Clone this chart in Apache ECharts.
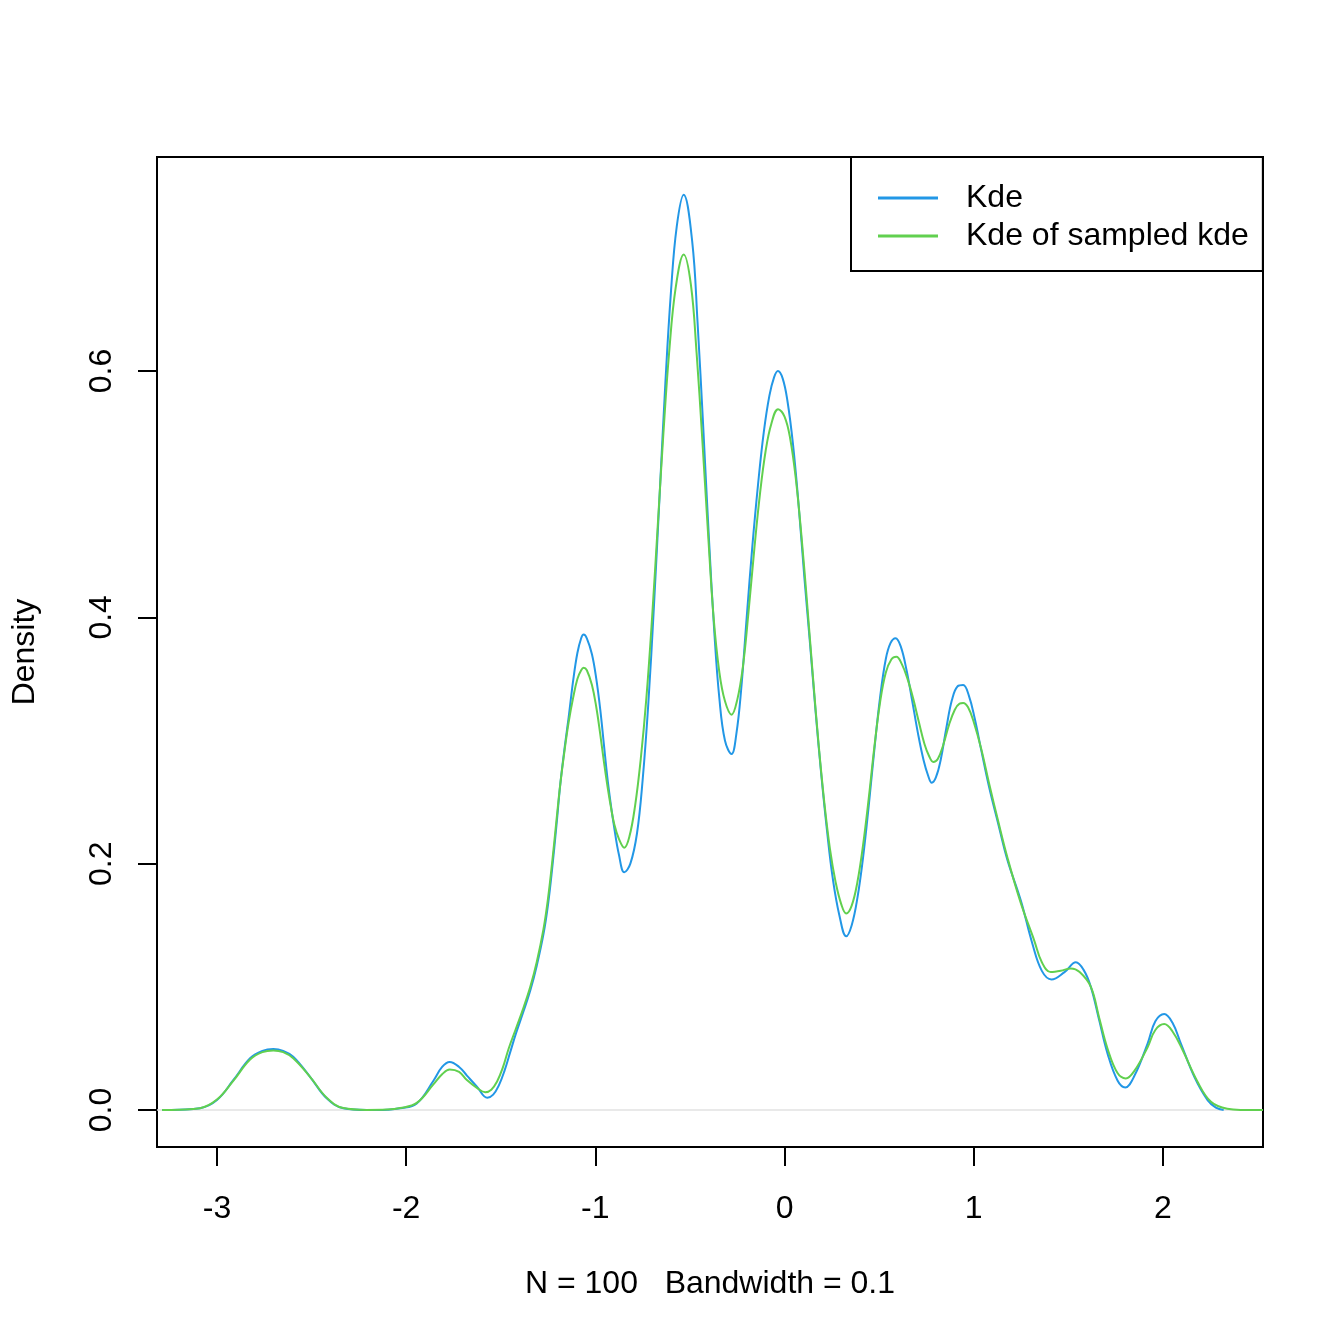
<!DOCTYPE html>
<html>
<head>
<meta charset="utf-8">
<script src="https://cdn.jsdelivr.net/npm/echarts@6/dist/echarts.min.js"></script>
<style>html,body{margin:0;padding:0;background:#fff}#c{width:1344px;height:1344px}</style>
</head>
<body>
<div id="c"></div>
<script>
var kdeX = [-3.29,-3.2,-3.09,-3.0,-2.915,-2.825,-2.76,-2.702,-2.65,-2.597,-2.508,-2.42,-2.332,-2.21,-2.1,-2.032,-1.944,-1.855,-1.81,-1.77,-1.72,-1.679,-1.626,-1.571,-1.54,-1.51,-1.48,-1.45,-1.42,-1.38,-1.344,-1.31,-1.274,-1.25,-1.229,-1.205,-1.185,-1.16,-1.141,-1.117,-1.095,-1.075,-1.062,-1.045,-1.018,-0.995,-0.974,-0.955,-0.938,-0.92,-0.903,-0.875,-0.847,-0.815,-0.78,-0.75,-0.72,-0.69,-0.66,-0.63,-0.6,-0.57,-0.533,-0.488,-0.46,-0.43,-0.4,-0.37,-0.345,-0.315,-0.28,-0.255,-0.23,-0.2,-0.17,-0.14,-0.11,-0.08,-0.055,-0.035,-0.01,0.015,0.045,0.075,0.105,0.135,0.165,0.195,0.225,0.255,0.29,0.326,0.355,0.385,0.415,0.445,0.475,0.505,0.535,0.56,0.587,0.615,0.645,0.675,0.705,0.735,0.76,0.778,0.8,0.825,0.855,0.885,0.915,0.944,0.975,1.005,1.04,1.08,1.13,1.178,1.249,1.31,1.36,1.411,1.48,1.54,1.58,1.619,1.663,1.707,1.76,1.801,1.85,1.919,1.96,2.007,2.05,2.095,2.166,2.236,2.28,2.321];
var kdeY = [0,0.0003,0.0014,0.0081,0.024,0.042,0.048,0.0495,0.048,0.0433,0.027,0.0095,0.0014,0,0.0003,0.0014,0.0054,0.024,0.035,0.039,0.035,0.028,0.019,0.010,0.0125,0.020,0.032,0.047,0.062,0.080,0.097,0.117,0.143,0.167,0.195,0.232,0.265,0.297,0.319,0.349,0.371,0.383,0.386,0.383,0.370,0.350,0.325,0.297,0.272,0.250,0.232,0.207,0.193,0.200,0.2245,0.268,0.330,0.410,0.500,0.590,0.665,0.717,0.743,0.705,0.640,0.555,0.465,0.385,0.335,0.300,0.289,0.305,0.340,0.400,0.458,0.508,0.550,0.580,0.595,0.600,0.594,0.576,0.540,0.490,0.432,0.378,0.322,0.271,0.226,0.188,0.158,0.141,0.150,0.172,0.205,0.247,0.293,0.335,0.366,0.379,0.383,0.376,0.357,0.332,0.306,0.284,0.271,0.2657,0.270,0.284,0.310,0.333,0.344,0.345,0.336,0.318,0.292,0.263,0.232,0.203,0.170,0.135,0.113,0.106,0.112,0.120,0.114,0.100,0.073,0.046,0.024,0.0184,0.028,0.054,0.072,0.0779,0.071,0.054,0.027,0.0081,0.002,0];
var sampX = [-3.29,-3.2,-3.09,-3.0,-2.915,-2.825,-2.76,-2.702,-2.65,-2.597,-2.508,-2.42,-2.332,-2.21,-2.1,-2.032,-1.944,-1.855,-1.81,-1.77,-1.72,-1.679,-1.626,-1.582,-1.55,-1.52,-1.49,-1.458,-1.42,-1.38,-1.344,-1.31,-1.274,-1.25,-1.229,-1.205,-1.185,-1.16,-1.141,-1.117,-1.095,-1.075,-1.062,-1.045,-1.018,-0.995,-0.974,-0.955,-0.938,-0.92,-0.9,-0.875,-0.847,-0.82,-0.79,-0.76,-0.73,-0.7,-0.67,-0.64,-0.61,-0.575,-0.533,-0.495,-0.465,-0.435,-0.405,-0.375,-0.345,-0.315,-0.28,-0.25,-0.22,-0.19,-0.16,-0.13,-0.1,-0.07,-0.034,0.0,0.03,0.06,0.09,0.12,0.15,0.18,0.21,0.24,0.27,0.3,0.326,0.355,0.385,0.415,0.445,0.475,0.505,0.535,0.565,0.591,0.62,0.65,0.68,0.71,0.74,0.765,0.786,0.81,0.84,0.87,0.9,0.925,0.944,0.97,1.0,1.04,1.08,1.13,1.178,1.249,1.319,1.36,1.407,1.46,1.513,1.56,1.619,1.663,1.707,1.76,1.804,1.85,1.919,1.96,2.007,2.05,2.104,2.183,2.254,2.34,2.42,2.529];
var sampY = [0,0.0003,0.0015,0.0085,0.0235,0.041,0.047,0.0484,0.047,0.042,0.027,0.010,0.0016,0.0001,0.0004,0.0016,0.0058,0.021,0.029,0.033,0.031,0.0243,0.018,0.0144,0.0165,0.023,0.034,0.050,0.066,0.083,0.100,0.120,0.147,0.172,0.200,0.236,0.265,0.295,0.315,0.335,0.350,0.357,0.359,0.357,0.345,0.327,0.305,0.283,0.265,0.248,0.232,0.220,0.213,0.222,0.247,0.285,0.335,0.400,0.475,0.550,0.615,0.668,0.6945,0.670,0.615,0.545,0.470,0.400,0.356,0.332,0.321,0.333,0.360,0.405,0.455,0.500,0.535,0.557,0.569,0.563,0.545,0.512,0.465,0.410,0.352,0.297,0.250,0.212,0.185,0.167,0.1596,0.166,0.185,0.215,0.253,0.295,0.331,0.355,0.366,0.368,0.362,0.350,0.334,0.315,0.297,0.287,0.2826,0.285,0.297,0.313,0.325,0.330,0.3305,0.327,0.315,0.293,0.266,0.234,0.205,0.168,0.138,0.120,0.112,0.113,0.115,0.112,0.100,0.075,0.050,0.030,0.0257,0.032,0.051,0.065,0.0698,0.064,0.0487,0.023,0.0067,0.001,0.0001,0];
var xTicks = [-3,-2,-1,0,1,2];
var yTicks = [0,0.2,0.4,0.6];
var seriesNames = ['Kde','Kde of sampled kde'];

function pairs(xs, ys){ return xs.map(function(x,i){ return [x, ys[i]]; }); }

var FONT = 'Liberation Sans, Arial, Helvetica, sans-serif';
var chart = echarts.init(document.getElementById('c'), null, {renderer:'canvas'});
chart.setOption({
  backgroundColor:'#ffffff',
  animation:false,
  textStyle:{fontFamily:FONT},
  grid:{left:157, top:157, width:1106, height:990, show:true, borderColor:'#000', borderWidth:2, backgroundColor:'transparent', containLabel:false},
  legend:{
    left:851, top:157, orient:'vertical',
    data:[{name:seriesNames[0], icon:'rect'},{name:seriesNames[1], icon:'rect'}],
    itemWidth:60, itemHeight:3, itemGap:0,
    padding:[22,14,16,27],
    borderColor:'#000', borderWidth:2, borderRadius:0,
    backgroundColor:'#fff',
    textStyle:{fontFamily:FONT, fontSize:32, color:'#000', lineHeight:38, padding:[0,0,0,23]}
  },
  xAxis:{
    type:'value', min:-3.317, max:2.529,
    name:'N = 100   Bandwidth = 0.1', nameLocation:'middle', nameGap:121,
    nameTextStyle:{fontFamily:FONT, fontSize:32, color:'#000'},
    axisLine:{show:false, onZero:false},
    axisTick:{show:true, inside:false, length:19, lineStyle:{color:'#000', width:2}, customValues:xTicks},
    axisLabel:{show:true, margin:46, fontSize:32, color:'#000', fontFamily:FONT, customValues:xTicks, formatter:function(v){return String(v);}},
    splitLine:{show:false}
  },
  yAxis:{
    type:'value', min:-0.0300, max:0.7737,
    name:'Density', nameLocation:'middle', nameGap:116, nameRotate:90,
    nameTextStyle:{fontFamily:FONT, fontSize:32, color:'#000'},
    axisLine:{show:false, onZero:false},
    axisTick:{show:true, inside:false, length:19, lineStyle:{color:'#000', width:2}, customValues:yTicks},
    axisLabel:{show:true, margin:39, rotate:90, fontSize:32, color:'#000', fontFamily:FONT, customValues:yTicks, formatter:function(v){return v.toFixed(1);}},
    splitLine:{show:false}
  },
  series:[
    {
      name:seriesNames[0], type:'line', data:pairs(kdeX,kdeY), symbol:'none', smooth:0.4,
      lineStyle:{color:'#2297E6', width:2}, itemStyle:{color:'#2297E6'}, z:2,
      markLine:{silent:true, symbol:['none','none'], label:{show:false}, lineStyle:{color:'#e2e2e2', width:1.5, type:'solid'}, data:[{yAxis:0}], z:1}
    },
    {
      name:seriesNames[1], type:'line', data:pairs(sampX,sampY), symbol:'none', smooth:0.4,
      lineStyle:{color:'#61D04F', width:2}, itemStyle:{color:'#61D04F'}, z:3
    }
  ]
});
</script>
</body>
</html>
